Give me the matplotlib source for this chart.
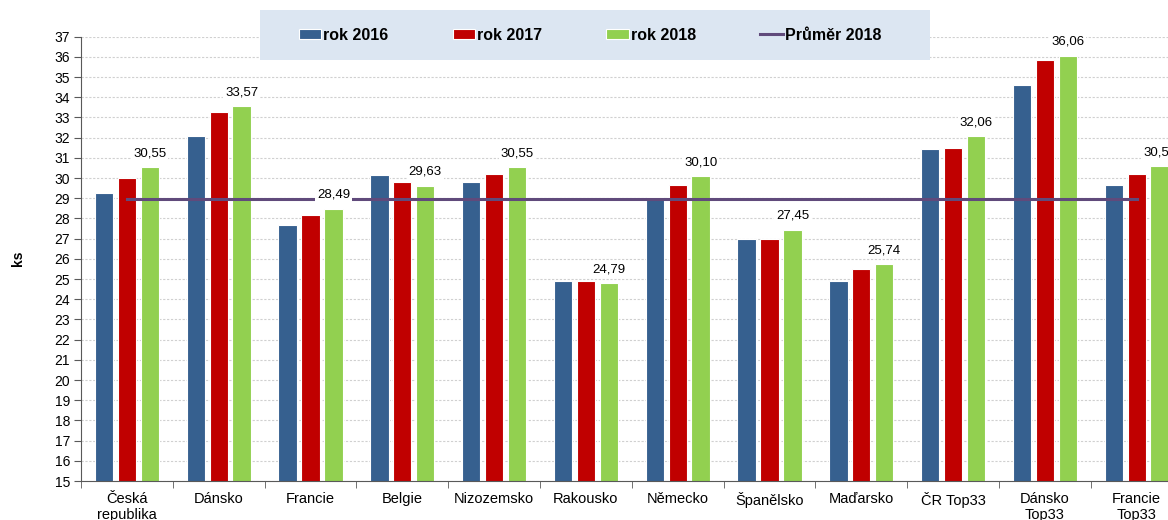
import numpy as np
from matplotlib import pyplot as plt
from matplotlib.patches import Rectangle

plt.rcParams['font.family'] = ['Liberation Sans', 'DejaVu Sans']

kategorie = ['Česká\nrepublika', 'Dánsko', 'Francie', 'Belgie', 'Nizozemsko', 'Rakousko',
             'Německo', 'Španělsko', 'Maďarsko', 'ČR Top33', 'Dánsko\nTop33', 'Francie\nTop33']
rok2016 = [29.25, 32.08, 27.70, 30.15, 29.80, 24.90, 29.05, 27.00, 24.90, 31.43, 34.60, 29.64]
rok2017 = [30.00, 33.27, 28.15, 29.80, 30.20, 24.90, 29.65, 27.00, 25.50, 31.48, 35.84, 30.20]
rok2018 = [30.55, 33.57, 28.49, 29.63, 30.55, 24.79, 30.10, 27.45, 25.74, 32.06, 36.06, 30.58]
prumer2018 = 28.98

modra = '#36608F'
cervena = '#C00000'
zelena = '#92D050'
fialova = '#604A7B'

W, H = 1168, 520
fig = plt.figure(figsize=(W / 100, H / 100), dpi=100)
ax = fig.add_axes([81 / W, 39 / H, 1101.6 / W, 444.3 / H])

x = np.arange(len(kategorie))
sirka = 0.2
b1 = ax.bar(x - 0.25, rok2016, sirka, color=modra, edgecolor='white', lw=0.8, zorder=2, label='rok 2016')
b2 = ax.bar(x, rok2017, sirka, color=cervena, edgecolor='white', lw=0.8, zorder=2, label='rok 2017')
b3 = ax.bar(x + 0.25, rok2018, sirka, color=zelena, edgecolor='white', lw=0.8, zorder=2, label='rok 2018')
l1, = ax.plot(x, [prumer2018] * len(x), color=fialova, lw=2.2, zorder=3, label='Průměr 2018')

for xi, v in zip(x, rok2018):
    ax.annotate(('%.2f' % v).replace('.', ','), (xi + 0.25, v), xytext=(0, 10),
                textcoords='offset points', ha='center', va='center', fontsize=9.5,
                bbox=dict(boxstyle='square,pad=0.15', fc='white', ec='none'), zorder=4)

ax.set_xlim(-0.5, 11.5)
ax.set_ylim(15, 37)
ax.set_yticks(range(15, 38))
ax.set_xticks(x)
ax.set_xticklabels(kategorie, fontsize=10.5)
ax.set_xticks(np.arange(-0.5, 12, 1), minor=True)
ax.tick_params(axis='x', which='major', length=0, pad=8)
ax.tick_params(axis='x', which='minor', length=5, color='#595959')
ax.tick_params(axis='y', length=5, color='#595959', labelsize=10, pad=3)
ax.yaxis.grid(True, ls=(0, (2, 1.5)), color='#D0D0D0', lw=0.8, zorder=0)
ax.set_axisbelow(True)
for s in ['top', 'right']:
    ax.spines[s].set_visible(False)
for s in ['left', 'bottom']:
    ax.spines[s].set_color('#595959')

fig.text(18 / W, 1 - 258 / H, 'ks', fontsize=10, fontweight='bold', rotation=90, ha='center', va='center')

# legenda
fig.patches.append(Rectangle((260 / W, 1 - 60 / H), 670 / W, 50 / H, transform=fig.transFigure,
                             fc='#DCE6F2', ec='none', zorder=0))
fig.legend([b1, b2, b3, l1], ['rok 2016', 'rok 2017', 'rok 2018', 'Průměr 2018'],
           loc='center', bbox_to_anchor=(590 / W, 1 - 35 / H), ncol=4, frameon=False,
           prop={'weight': 'bold', 'size': 11.5},
           handlelength=1.4, handleheight=0.6, handletextpad=0.15, columnspacing=4.0)

fig.savefig('out.png', dpi=100)
